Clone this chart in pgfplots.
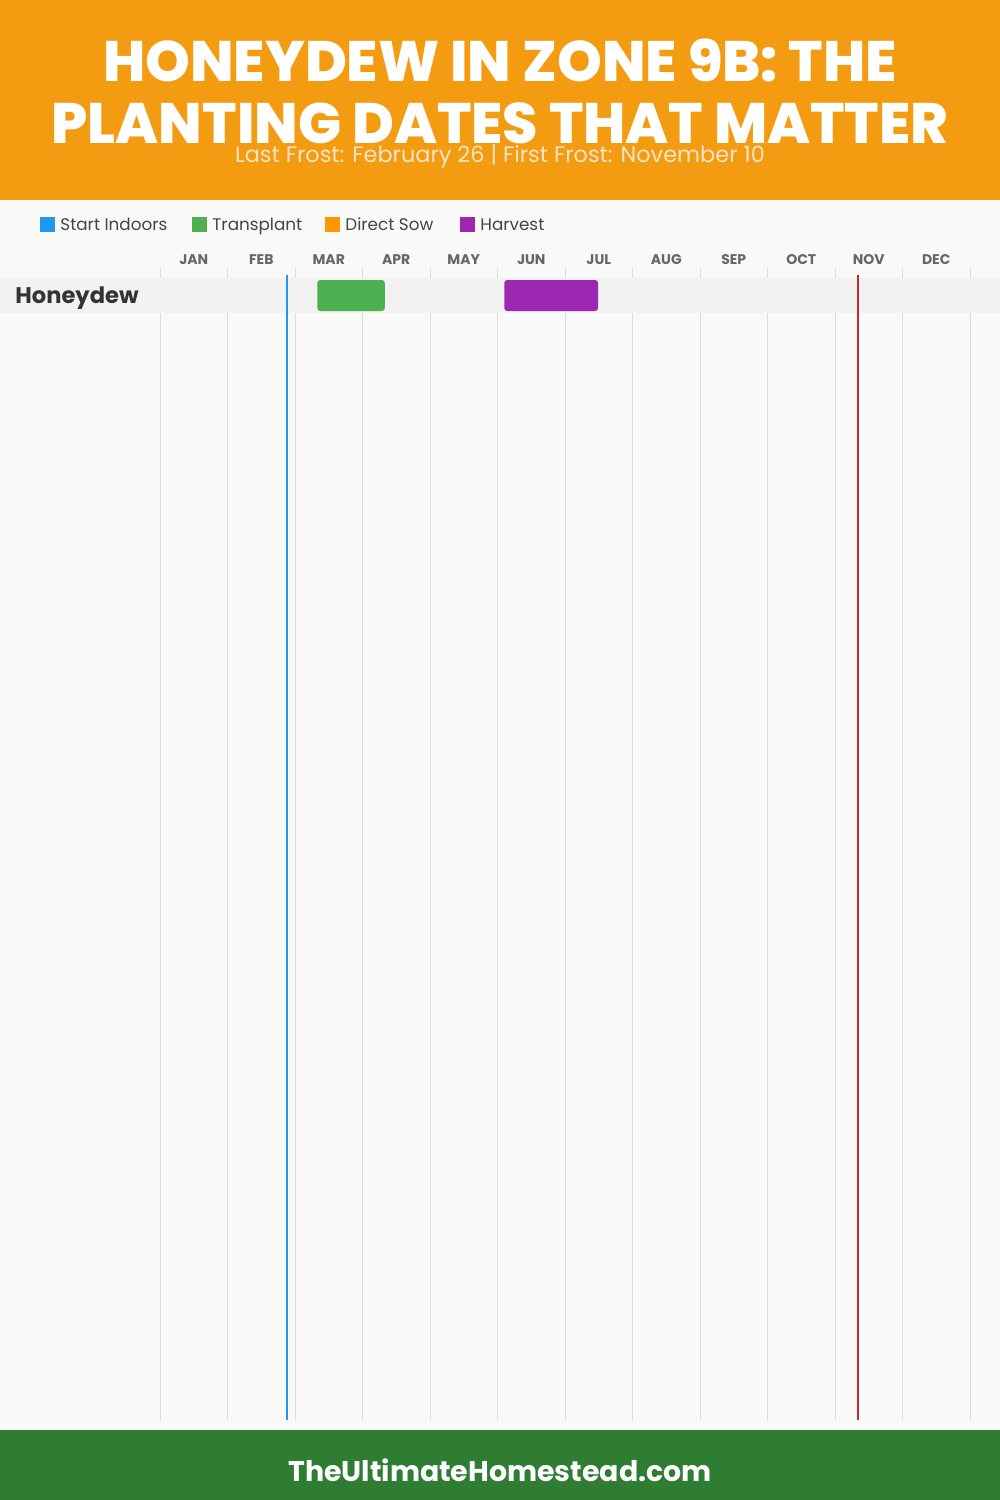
\documentclass[border=0pt]{standalone}
\usepackage{fontspec}
\setmainfont{Poppins}
\newfontfamily\titlefont{Poppins ExtraBold}
\usepackage{pgfplots}
\pgfplotsset{compat=1.18}
\definecolor{hdr}{HTML}{F39C12}
\definecolor{bgc}{HTML}{F9F9F7}
\definecolor{bandc}{HTML}{F2F2F2}
\definecolor{gridc}{HTML}{DDDDDD}
\definecolor{cblue}{HTML}{2196F3}
\definecolor{cgreen}{HTML}{4CAF50}
\definecolor{corange}{HTML}{FF9800}
\definecolor{cpurple}{HTML}{9C27B0}
\definecolor{cred}{HTML}{C62828}
\definecolor{ftr}{HTML}{2E7D32}
\definecolor{monthc}{HTML}{666666}
\definecolor{labc}{HTML}{333333}
\definecolor{legc}{HTML}{444444}
\definecolor{subc}{HTML}{F5E3C6}
\begin{document}
\begin{tikzpicture}[x=0.5pt,y=-0.5pt]
\fill[bgc] (0,0) rectangle (1000,1500);
\useasboundingbox (0,0) rectangle (1000,1500);
\fill[hdr] (0,0) rectangle (1000,200);
\fill[ftr] (0,1430) rectangle (1000,1500);
\node[anchor=base, white, font=\titlefont\fontsize{28.5}{31}\selectfont, inner sep=0pt] at (500,81) {HONEYDEW IN ZONE 9B: THE};
\node[anchor=base, white, font=\titlefont\fontsize{28.5}{31}\selectfont, inner sep=0pt] at (500,143) {PLANTING DATES THAT MATTER};
\node[anchor=base, subc, font=\fontsize{11.2}{13}\selectfont, inner sep=0pt] at (500,162) {Last Frost: February 26 | First Frost: November 10};
\node[anchor=base, white, font=\bfseries\fontsize{14.2}{16}\selectfont, inner sep=0pt] at (500,1481) {TheUltimateHomestead.com};
% legend
\fill[cblue] (40,217) rectangle (55,232);
\node[anchor=base west, legc, font=\fontsize{8.4}{10}\selectfont, inner sep=0pt] at (60,230.5) {Start Indoors};
\fill[cgreen] (192,217) rectangle (207,232);
\node[anchor=base west, legc, font=\fontsize{8.4}{10}\selectfont, inner sep=0pt] at (212,230.5) {Transplant};
\fill[corange] (325,217) rectangle (340,232);
\node[anchor=base west, legc, font=\fontsize{8.4}{10}\selectfont, inner sep=0pt] at (345,230.5) {Direct Sow};
\fill[cpurple] (460,217) rectangle (475,232);
\node[anchor=base west, legc, font=\fontsize{8.4}{10}\selectfont, inner sep=0pt] at (480,230.5) {Harvest};
\coordinate (A) at (160,1420);
\begin{axis}[
  at={(A)}, anchor=south west,
  scale only axis, width=405pt, height=576pt,
  xmin=0, xmax=12, ymin=-1420, ymax=-268,
  clip=false,
  axis line style={draw=none},
  xtick={0.5,1.5,...,11.5},
  xticklabels={JAN,FEB,MAR,APR,MAY,JUN,JUL,AUG,SEP,OCT,NOV,DEC},
  xticklabel pos=upper,
  ytick=\empty,
  minor xtick={0,1,...,12},
  xminorgrids,
  minor grid style={gridc, line width=0.5pt},
  major tick length=0pt, minor tick length=0pt,
  xticklabel style={font=\bfseries\fontsize{7}{8}\selectfont, text=monthc, anchor=base, inner sep=0pt, yshift=2pt},
]
\addplot[fill=bandc, draw=none, forget plot] coordinates {(-2.370,-278) (12.444,-278) (12.444,-313) (-2.370,-313)} --cycle;
\addplot[fill=cgreen, draw=none, rounded corners=1.5pt] coordinates {(2.33,-280) (3.33,-280) (3.33,-311) (2.33,-311)} --cycle;
\addplot[fill=cpurple, draw=none, rounded corners=1.5pt] coordinates {(5.10,-280) (6.49,-280) (6.49,-311) (5.10,-311)} --cycle;
\addplot[cblue, line width=1pt] coordinates {(1.88,-275) (1.88,-1420)};
\addplot[cred, line width=1pt] coordinates {(10.34,-275) (10.34,-1420)};
\end{axis}
\node[anchor=base west, labc, font=\bfseries\fontsize{11.3}{13}\selectfont, inner sep=0pt] at (15,303) {Honeydew};
\end{tikzpicture}
\end{document}
